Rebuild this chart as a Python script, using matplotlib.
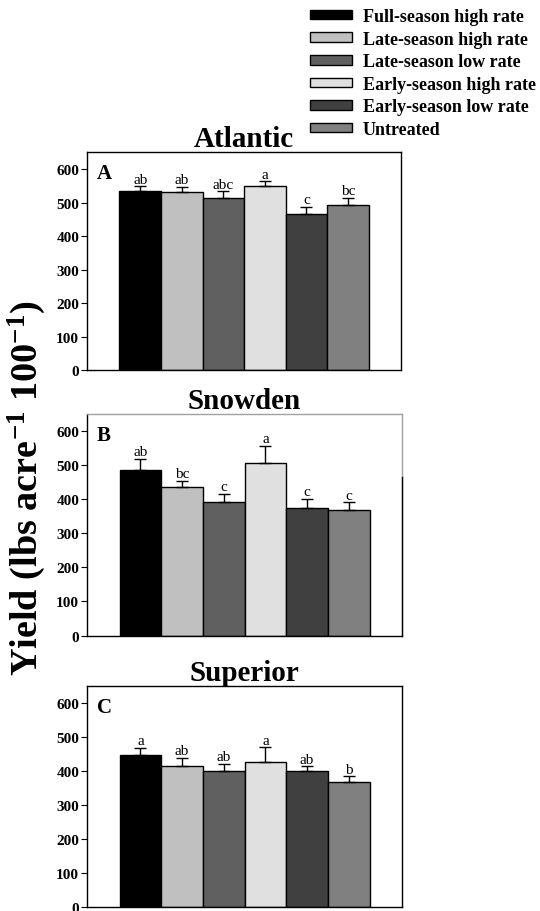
import matplotlib
matplotlib.use("Agg")
import matplotlib.pyplot as plt
from matplotlib.patches import Patch

plt.rcParams['font.family'] = ['Liberation Serif', 'DejaVu Serif']
plt.rcParams['mathtext.fontset'] = 'custom'
plt.rcParams['mathtext.rm'] = 'Liberation Serif:bold'
plt.rcParams['mathtext.bf'] = 'Liberation Serif:bold'
plt.rcParams['mathtext.default'] = 'bf'

treatments = ['Full-season high rate', 'Late-season high rate', 'Late-season low rate',
              'Early-season high rate', 'Early-season low rate', 'Untreated']
colors = ['#000000', '#c0c0c0', '#606060', '#e0e0e0', '#404040', '#808080']

cultivars = ['Atlantic', 'Snowden', 'Superior']
panel_letters = ['A', 'B', 'C']

atlantic_mean = [535, 530, 512, 548, 466, 492]
atlantic_se = [13, 17, 21, 15, 21, 21]
atlantic_sig = ['ab', 'ab', 'abc', 'a', 'c', 'bc']

snowden_mean = [487, 435, 392, 505, 374, 367]
snowden_se = [32, 19, 23, 51, 27, 24]
snowden_sig = ['ab', 'bc', 'c', 'a', 'c', 'c']

superior_mean = [448, 415, 400, 425, 400, 367]
superior_se = [20, 23, 20, 44, 14, 17]
superior_sig = ['a', 'ab', 'ab', 'a', 'ab', 'b']

means = [atlantic_mean, snowden_mean, superior_mean]
ses = [atlantic_se, snowden_se, superior_se]
sigs = [atlantic_sig, snowden_sig, superior_sig]

fig = plt.figure(figsize=(5.4, 9.12), dpi=100)

# axes boxes in figure fraction: left, bottom, width, height
boxes = [[0.162, 0.593, 0.580, 0.239],
         [0.162, 0.302, 0.582, 0.243],
         [0.162, 0.004, 0.582, 0.243]]

x = list(range(len(treatments)))
for i in range(3):
    ax = fig.add_axes(boxes[i])
    ax.bar(x, means[i], width=1.0, color=colors, edgecolor='black', linewidth=1.0, zorder=2)
    ax.errorbar(x, means[i], yerr=[[0] * 6, ses[i]], fmt='none', ecolor='black',
                elinewidth=1.0, capsize=4, capthick=1.0, zorder=3)
    for j in x:
        ax.text(j, means[i][j] + ses[i][j] + 2, sigs[i][j], ha='center', va='bottom',
                fontsize=11)
    ax.set_xlim(-1.27, 6.27)
    ax.set_ylim(0, 650)
    ax.set_yticks([0, 100, 200, 300, 400, 500, 600])
    ax.set_xticks([])
    ax.tick_params(axis='y', direction='out', length=4, width=0.8, pad=2)
    for lab in ax.get_yticklabels():
        lab.set_fontweight('bold')
        lab.set_fontsize(11)
    ax.set_title(cultivars[i], fontsize=21, fontweight='bold', pad=4)
    ax.text(0.03, 0.95, panel_letters[i], transform=ax.transAxes, fontsize=15,
            fontweight='bold', ha='left', va='top')
    for s in ax.spines.values():
        s.set_linewidth(1.0)
    if i == 1:
        ax.spines['top'].set_color('#a0a0a0')
        ax.spines['right'].set_color('#a0a0a0')
        ax.plot([1, 1], [0, 0.717], transform=ax.transAxes, color='black',
                linewidth=1.0, clip_on=False, zorder=5)

fig.text(0.05, 0.465, 'Yield (lbs acre$^{-1}$ 100$^{-1}$)', rotation=90,
         ha='center', va='center', fontsize=27.5, fontweight='bold')

handles = [Patch(facecolor=c, edgecolor='black', linewidth=1.0) for c in colors]
fig.legend(handles, treatments, loc='upper left', bbox_to_anchor=(0.554, 1.002),
           frameon=False, prop={'weight': 'bold', 'size': 13},
           handlelength=2.33, handleheight=0.45, labelspacing=0.31, handletextpad=0.6,
           borderaxespad=0.2)

fig.savefig('out.png', dpi=100)
